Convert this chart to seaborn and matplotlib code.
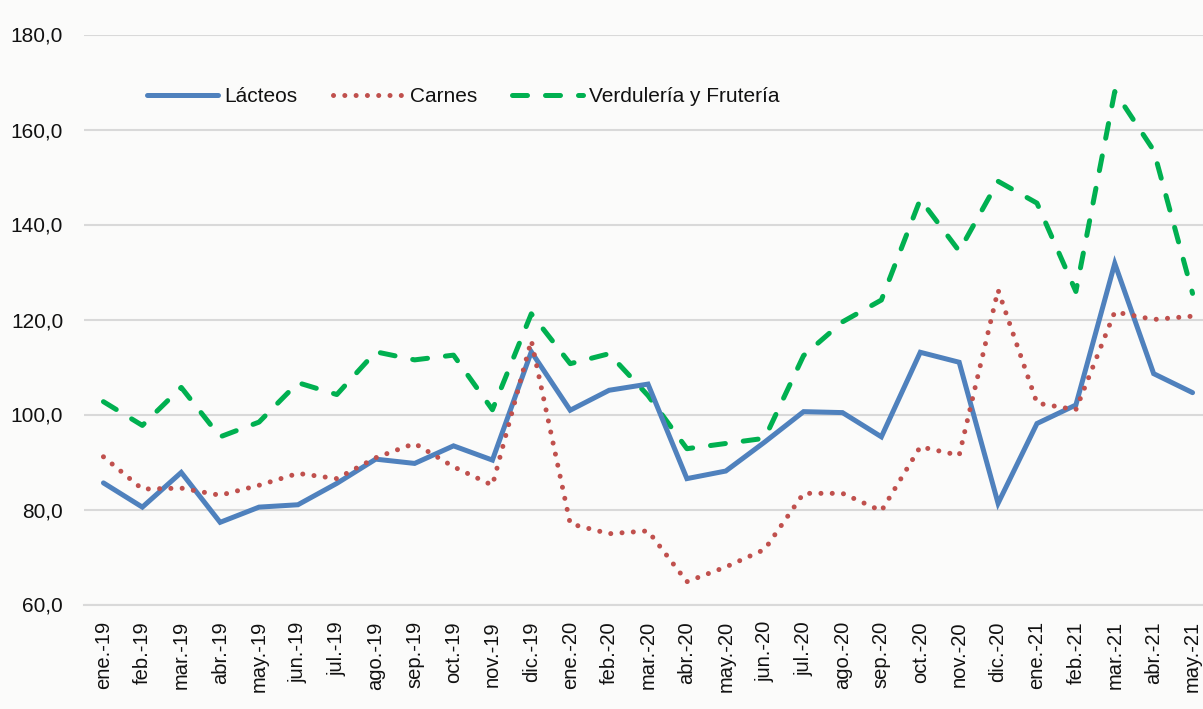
import matplotlib
matplotlib.use("Agg")
import matplotlib.pyplot as plt
import seaborn as sns
import pandas as pd

months = ["ene.-19", "feb.-19", "mar.-19", "abr.-19", "may.-19", "jun.-19", "jul.-19",
          "ago.-19", "sep.-19", "oct.-19", "nov.-19", "dic.-19",
          "ene.-20", "feb.-20", "mar.-20", "abr.-20", "may.-20", "jun.-20", "jul.-20",
          "ago.-20", "sep.-20", "oct.-20", "nov.-20", "dic.-20",
          "ene.-21", "feb.-21", "mar.-21", "abr.-21", "may.-21"]

lacteos = [85.6, 80.5, 87.8, 77.3, 80.5, 81.0, 85.5, 90.6, 89.7, 93.4, 90.4, 113.2,
           100.9, 105.1, 106.4, 86.5, 88.1, 94.2, 100.6, 100.4, 95.3, 113.1, 111.0, 81.3,
           98.1, 102.0, 131.8, 108.6, 104.6]
carnes = [91.1, 84.3, 84.5, 83.0, 85.1, 87.6, 86.5, 90.9, 93.9, 89.0, 85.1, 115.6,
          77.0, 74.9, 75.5, 64.8, 67.9, 71.6, 83.4, 83.4, 79.7, 93.2, 91.4, 126.2,
          102.4, 101.0, 121.6, 120.0, 120.7]
verduleria = [102.7, 97.7, 105.7, 95.3, 98.4, 106.7, 104.2, 113.2, 111.5, 112.5, 101.0, 121.2,
              110.7, 112.8, 104.0, 92.8, 93.9, 95.0, 112.4, 119.5, 124.1, 145.3, 134.4, 149.1,
              144.5, 125.9, 168.0, 155.6, 125.5]

yticks = [60, 80, 100, 120, 140, 160, 180]
ytick_labels = ["60,0", "80,0", "100,0", "120,0", "140,0", "160,0", "180,0"]

sns.set_theme(style="white")
plt.rcParams["font.family"] = ["Liberation Sans", "DejaVu Sans"]

bg = "#FBFBFA"
txt = "#111111"
fig = plt.figure(figsize=(12.03, 7.09), dpi=100, facecolor=bg)
ax = fig.add_axes([84 / 1203, 104.5 / 709, 1128 / 1203, 570 / 709])
ax.set_facecolor(bg)

idx = list(range(len(months)))
df = pd.DataFrame({"x": idx, "Lácteos": lacteos, "Carnes": carnes,
                   "Verdulería y Frutería": verduleria})

lw = 3.6
sns.lineplot(data=df, x="x", y="Lácteos", ax=ax, color="#4F81BD", linewidth=lw,
             label="Lácteos", solid_capstyle="round", solid_joinstyle="miter", zorder=3)
sns.lineplot(data=df, x="x", y="Carnes", ax=ax, color="#C0504D", linewidth=lw,
             linestyle=(0, (0.01, 2.25)), dash_capstyle="round",
             label="Carnes", zorder=4)
sns.lineplot(data=df, x="x", y="Verdulería y Frutería", ax=ax, color="#00B050",
             linewidth=lw, linestyle=(0, (3.0, 3.6)), dash_capstyle="round",
             label="Verdulería y Frutería", zorder=2)

ax.set_xlim(-0.5, len(months) - 0.5)
ax.set_ylim(60, 180)
ax.set_yticks(yticks)
ax.set_yticklabels(ytick_labels, fontsize=15, color=txt)
ax.set_xticks(idx)
ax.set_xticklabels(months, rotation=90, fontsize=14.5, color=txt, va="top", ha="center")
ax.set_xticks([i - 0.5 for i in range(len(months) + 1)], minor=True)
ax.tick_params(axis="x", which="major", length=0, pad=12)
ax.tick_params(axis="x", which="minor", length=4, width=1.5, color="#D9D9D9", direction="out")
ax.tick_params(axis="y", length=0, pad=15)
ax.set_xlabel("")
ax.set_ylabel("")

ax.grid(axis="y", color="#D9D9D9", linewidth=1.5, zorder=0)
ax.set_axisbelow(True)
for s in ["left", "right", "top"]:
    ax.spines[s].set_visible(False)
ax.spines["bottom"].set_color("#D9D9D9")
ax.spines["bottom"].set_linewidth(1.5)

handles, labels = ax.get_legend_handles_labels()
if ax.get_legend():
    ax.get_legend().remove()
leg = fig.legend(handles, labels, loc="center left",
                 bbox_to_anchor=(147 / 1203, 1 - 97 / 709), bbox_transform=fig.transFigure,
                 ncol=3, frameon=False, fontsize=15, handlelength=3.4,
                 handletextpad=0.3, columnspacing=1.7, borderpad=0, borderaxespad=0)
for t in leg.get_texts():
    t.set_color(txt)

fig.savefig("out.png", dpi=100, facecolor=bg)
